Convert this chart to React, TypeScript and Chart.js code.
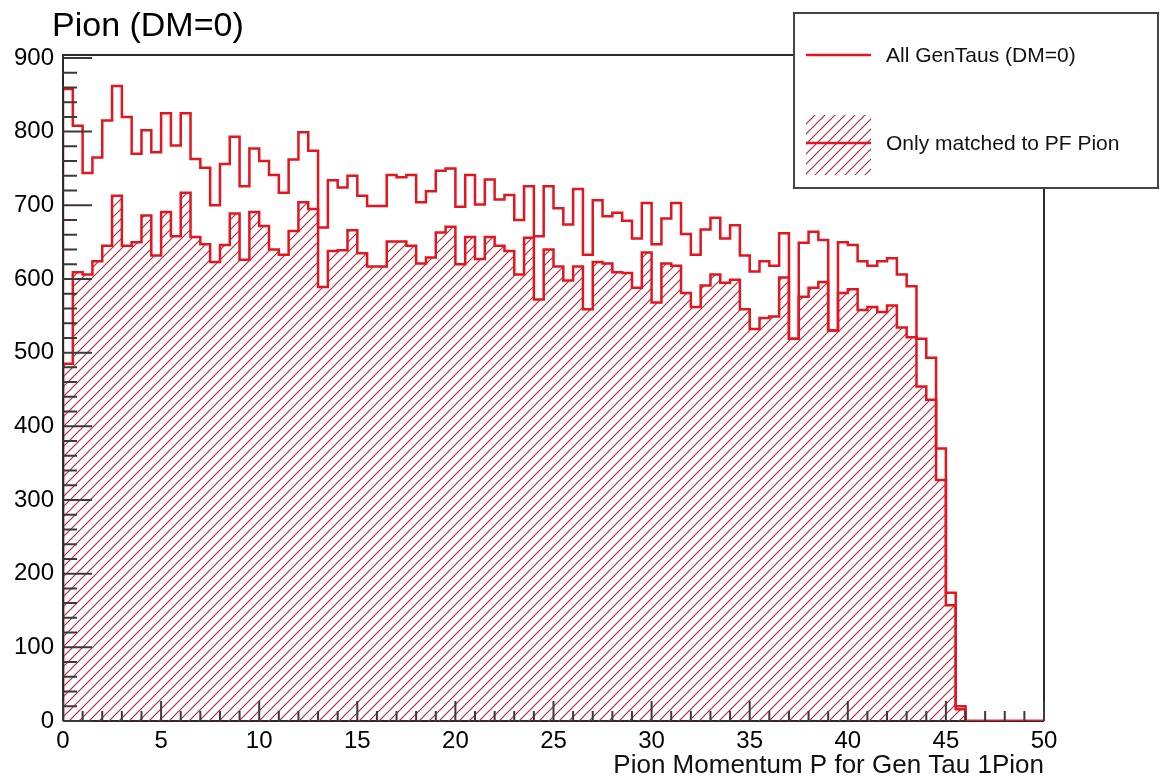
import React, { useEffect, useRef } from 'react';
import { Chart, registerables } from 'chart.js';

Chart.register(...registerables);

// ---- text ----
const TITLE = 'Pion (DM=0)';
const X_TITLE = 'Pion Momentum P for Gen Tau 1Pion';
const LEGEND_ALL = 'All GenTaus (DM=0)';
const LEGEND_MATCHED = 'Only matched to PF Pion';

// ---- axes ----
const X_MIN = 0;
const X_MAX = 50;
const BIN_WIDTH = 0.5;
const X_TICKS = [0, 5, 10, 15, 20, 25, 30, 35, 40, 45, 50];
const X_MINOR_STEP = 1;
const Y_MIN = 0;
const Y_MAX = 904;
const Y_TICKS = [0, 100, 200, 300, 400, 500, 600, 700, 800, 900];
const Y_MINOR_STEP = 20;

// ---- bin contents (100 bins of 0.5) ----
const allGenTaus = [
  418, 858, 808, 744, 765, 815, 862, 820, 770, 802,
  772, 825, 781, 825, 763, 751, 700, 756, 793, 726,
  777, 760, 741, 717, 762, 799, 774, 670, 734, 724,
  740, 713, 699, 699, 741, 738, 741, 704, 719, 747,
  750, 698, 741, 701, 735, 708, 714, 680, 726, 658,
  726, 696, 674, 722, 633, 707, 685, 690, 679, 655,
  703, 647, 682, 703, 661, 633, 667, 683, 655, 673,
  632, 610, 624, 618, 662, 519, 649, 664, 653, 530,
  650, 646, 624, 618, 624, 628, 606, 590, 519, 493,
  370, 174, 20, 0, 0, 0, 0, 0, 0, 0,
];

const matchedPFPion = [
  95, 485, 609, 606, 624, 645, 713, 645, 650, 686,
  632, 691, 658, 717, 657, 647, 623, 646, 689, 626,
  691, 672, 640, 633, 665, 704, 695, 589, 638, 639,
  666, 635, 617, 617, 651, 651, 645, 621, 629, 663,
  671, 620, 657, 627, 657, 645, 638, 606, 656, 572,
  640, 617, 598, 617, 559, 623, 621, 609, 608, 588,
  636, 568, 621, 618, 581, 562, 591, 606, 595, 599,
  559, 532, 547, 549, 602, 519, 576, 588, 596, 530,
  581, 586, 558, 562, 555, 564, 534, 521, 454, 436,
  327, 157, 16, 0, 0, 0, 0, 0, 0, 0,
];

// ---- styles ----
const FONT = "'Liberation Sans', Arial, Helvetica, sans-serif";
const RED = '#e3161f';
const HATCH = '#b8283e';
const FRAME = '#2b2b2b';
const TICK = '#3a3a3a';
const W = 1160;
const H = 781;

function toSteps(vals: number[]) {
  const pts: { x: number; y: number }[] = [{ x: X_MIN, y: 0 }];
  vals.forEach((v, i) => pts.push({ x: X_MIN + i * BIN_WIDTH, y: v }));
  pts.push({ x: X_MIN + vals.length * BIN_WIDTH, y: vals[vals.length - 1] });
  return pts;
}

function makeHatch(ctx: CanvasRenderingContext2D): CanvasPattern | string {
  const s = 10;
  const c = document.createElement('canvas');
  c.width = s;
  c.height = s;
  const g = c.getContext('2d');
  if (!g) return HATCH;
  g.strokeStyle = HATCH;
  g.lineWidth = 1.2;
  g.beginPath();
  g.moveTo(-1, s + 1);
  g.lineTo(s + 1, -1);
  g.moveTo(-1, 1);
  g.lineTo(1, -1);
  g.moveTo(s - 1, s + 1);
  g.lineTo(s + 1, s - 1);
  g.stroke();
  return ctx.createPattern(c, 'repeat') || HATCH;
}

export default function App() {
  const ref = useRef<HTMLCanvasElement | null>(null);

  useEffect(() => {
    const canvas = ref.current;
    if (!canvas) return;
    const ctx0 = canvas.getContext('2d');
    if (!ctx0) return;
    const hatch = makeHatch(ctx0);

    const framePlugin = {
      id: 'rootFrame',
      beforeDatasetsDraw(chart: any) {
        const { ctx, chartArea: a } = chart;
        ctx.save();
        ctx.strokeStyle = FRAME;
        ctx.lineWidth = 2;
        ctx.beginPath();
        ctx.moveTo(a.left, a.bottom);
        ctx.lineTo(a.right, a.bottom);
        ctx.stroke();
        ctx.restore();
      },
      afterDatasetsDraw(chart: any) {
        const { ctx, chartArea: a } = chart;
        const xs = chart.scales.x;
        const ys = chart.scales.y;
        ctx.save();
        ctx.strokeStyle = FRAME;
        ctx.lineWidth = 2;
        ctx.beginPath();
        ctx.moveTo(a.left, a.bottom);
        ctx.lineTo(a.left, a.top);
        ctx.lineTo(a.right, a.top);
        ctx.lineTo(a.right, a.bottom);
        ctx.stroke();
        ctx.strokeStyle = TICK;
        ctx.lineWidth = 2;
        ctx.beginPath();
        for (let v = Y_MIN; v <= Y_MAX; v += Y_MINOR_STEP) {
          const py = ys.getPixelForValue(v);
          const len = Y_TICKS.includes(v) ? 29 : 14;
          ctx.moveTo(a.left, py);
          ctx.lineTo(a.left + len, py);
        }
        for (let v = X_MIN; v <= X_MAX; v += X_MINOR_STEP) {
          const px = xs.getPixelForValue(v);
          const len = X_TICKS.includes(v) ? 20 : 10;
          ctx.moveTo(px, a.bottom);
          ctx.lineTo(px, a.bottom - len);
        }
        ctx.stroke();
        ctx.restore();
      },
    };

    const textPlugin = {
      id: 'rootText',
      afterDraw(chart: any) {
        const { ctx } = chart;
        ctx.save();
        // title
        ctx.fillStyle = '#000';
        ctx.font = `34px ${FONT}`;
        ctx.textAlign = 'left';
        ctx.textBaseline = 'alphabetic';
        ctx.fillText(TITLE, 52, 36);

        // legend box
        const lx = 794, ly = 13, lw = 364, lh = 175;
        ctx.fillStyle = '#fff';
        ctx.fillRect(lx, ly, lw, lh);
        ctx.strokeStyle = '#444';
        ctx.lineWidth = 2;
        ctx.strokeRect(lx, ly, lw, lh);

        // entry 1
        ctx.strokeStyle = RED;
        ctx.lineWidth = 2.5;
        ctx.beginPath();
        ctx.moveTo(806, 55);
        ctx.lineTo(871, 55);
        ctx.stroke();

        // entry 2
        ctx.fillStyle = hatch as any;
        ctx.fillRect(806, 115, 65, 60);
        ctx.beginPath();
        ctx.moveTo(806, 143);
        ctx.lineTo(871, 143);
        ctx.stroke();

        ctx.fillStyle = '#111';
        ctx.font = `21px ${FONT}`;
        ctx.textBaseline = 'middle';
        ctx.fillText(LEGEND_ALL, 886, 56);
        ctx.fillText(LEGEND_MATCHED, 886, 144);
        ctx.restore();
      },
    };

    const chart = new Chart(canvas, {
      type: 'line',
      data: {
        datasets: [
          {
            label: LEGEND_MATCHED,
            data: toSteps(matchedPFPion),
            stepped: 'after',
            borderColor: RED,
            borderWidth: 2.5,
            pointRadius: 0,
            fill: 'origin',
            backgroundColor: hatch as any,
          },
          {
            label: LEGEND_ALL,
            data: toSteps(allGenTaus),
            stepped: 'after',
            borderColor: RED,
            borderWidth: 2.5,
            pointRadius: 0,
            fill: false,
          },
        ],
      },
      options: {
        animation: false,
        responsive: false,
        maintainAspectRatio: false,
        layout: { padding: { left: 0, top: 55, right: 116, bottom: 0 } },
        plugins: {
          legend: { display: false },
          tooltip: { enabled: false },
          title: { display: false },
        },
        scales: {
          x: {
            type: 'linear',
            min: X_MIN,
            max: X_MAX,
            grid: { display: false, drawTicks: false },
            border: { display: false },
            ticks: {
              color: '#000',
              font: { size: 24, family: FONT },
              padding: 6,
              maxRotation: 0,
              autoSkip: false,
            },
            afterBuildTicks: (s: any) => {
              s.ticks = X_TICKS.map((v) => ({ value: v }));
            },
            title: {
              display: true,
              text: X_TITLE,
              align: 'end',
              color: '#111',
              font: { size: 26, family: FONT },
              padding: { top: 0, bottom: 0 },
            },
            afterFit: (s: any) => {
              s.height = 60;
            },
          },
          y: {
            type: 'linear',
            min: Y_MIN,
            max: Y_MAX,
            grid: { display: false, drawTicks: false },
            border: { display: false },
            ticks: {
              color: '#000',
              font: { size: 24, family: FONT },
              padding: 9,
              autoSkip: false,
            },
            afterBuildTicks: (s: any) => {
              s.ticks = Y_TICKS.map((v) => ({ value: v }));
            },
            afterFit: (s: any) => {
              s.width = 63;
            },
          },
        },
      } as any,
      plugins: [framePlugin, textPlugin],
    });

    return () => chart.destroy();
  }, []);

  return (
    <div style={{ position: 'absolute', left: 0, top: 0, width: W, height: H, background: '#fff' }}>
      <canvas ref={ref} width={W} height={H} style={{ display: 'block', width: W, height: H }} />
    </div>
  );
}
